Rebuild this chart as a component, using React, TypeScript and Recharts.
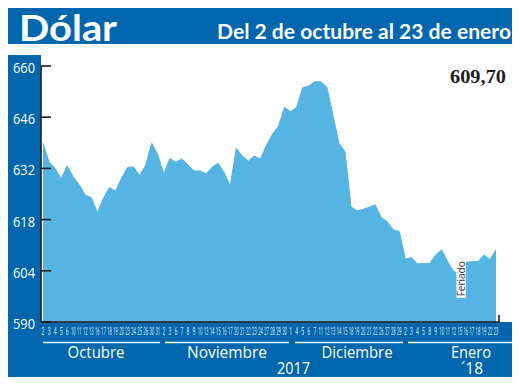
import React from 'react';
import { AreaChart, Area, XAxis, YAxis, ReferenceDot } from 'recharts';

// Business days shown on the axis
const octDays = [2, 3, 4, 5, 6, 10, 11, 12, 13, 16, 17, 18, 19, 20, 23, 24, 25, 26, 30, 31];
const novDays = [2, 3, 6, 7, 8, 9, 10, 13, 14, 15, 16, 17, 20, 21, 22, 23, 24, 27, 28, 29, 30];
const decDays = [1, 4, 5, 6, 7, 11, 12, 13, 14, 15, 18, 19, 20, 21, 22, 26, 27, 28, 29];
const janDays = [2, 3, 4, 5, 8, 9, 10, 11, 12, 15, 16, 17, 18, 19, 22, 23];

// Dollar values (CLP)
const octValues = [638.9, 633.8, 632.0, 629.1, 632.7, 629.7, 627.5, 624.7, 624.0, 619.9, 623.8, 626.8, 625.8, 629.3, 632.3, 632.4, 630.0, 632.9, 638.9, 635.7];
const novValues = [630.5, 634.7, 633.7, 634.6, 632.9, 631.3, 631.3, 630.5, 632.3, 633.4, 630.8, 627.2, 637.5, 635.4, 634.0, 635.4, 634.5, 638.4, 641.4, 643.6, 648.7];
const decValues = [647.5, 648.7, 654.1, 654.5, 655.7, 655.7, 654.2, 646.6, 638.9, 636.6, 621.5, 620.4, 620.8, 621.4, 622.0, 618.6, 617.4, 615.2, 614.7];
const janValues = [607.2, 607.6, 605.9, 606.0, 606.0, 608.3, 609.7, 606.5, 603.8, 603.3, 606.3, 606.5, 606.5, 608.3, 607.1, 609.7];

const yTicks = [590, 604, 618, 632, 646, 660];
const monthNames = ['Octubre', 'Noviembre', 'Diciembre', 'Enero'];
const title = 'Dólar';
const subtitle = 'Del 2 de octubre al 23 de enero';
const lastValueLabel = '609,70';
const holidayLabel = 'Feriado';
const holidayKey = '2018-01-15';
const holidayLabelValue = 601.8;

const pad = (n: number) => (n < 10 ? '0' + n : '' + n);
const build = (year: number, month: number, days: number[], values: number[]) =>
  days.map((d, i) => ({ key: `${year}-${pad(month)}-${pad(d)}`, day: d, value: values[i] }));

const data = [
  ...build(2017, 10, octDays, octValues),
  ...build(2017, 11, novDays, novValues),
  ...build(2017, 12, decDays, decValues),
  ...build(2018, 1, janDays, janValues),
];

const BLUE = '#0066AD';
const AREA = '#56B4E3';
const DARK = '#231F20';

const DayTick = (props: any) => {
  const { x, y, payload } = props;
  const d = Number(String(payload.value).slice(8, 10));
  return (
    <text
      x={x}
      y={y + 13}
      textAnchor="middle"
      fontSize={10}
      fontFamily="Roboto"
      fill="#DCEBF7"
      textLength={d >= 10 ? 4.6 : 2.8}
      lengthAdjust="spacingAndGlyphs"
    >
      {d}
    </text>
  );
};

const ValueTick = (props: any) => {
  const { x, y, payload } = props;
  return (
    <g>
      <text
        x={x}
        y={y + 7}
        textAnchor="end"
        fontSize={15}
        fontFamily="'Open Sans'"
        fill="#FFFFFF"
        textLength={22}
        lengthAdjust="spacingAndGlyphs"
      >
        {payload.value}
      </text>
      <line x1={x + 6} x2={x + 16} y1={y} y2={y} stroke={DARK} strokeWidth={1.6} />
    </g>
  );
};

const HolidayShape = (props: any) => {
  const { cx, cy } = props;
  return (
    <g>
      <rect x={cx - 3.3} y={cy - 19} width={9.4} height={38} fill="#FFFFFF" />
      <text
        transform={`translate(${cx + 5},${cy}) rotate(-90)`}
        textAnchor="middle"
        fontSize={10.5}
        fontFamily="'Open Sans'"
        fill="#333333"
        textLength={35}
        lengthAdjust="spacingAndGlyphs"
      >
        {holidayLabel}
      </text>
    </g>
  );
};

export default function App() {
  return (
    <div style={{ position: 'relative', width: 504, height: 374 }}>
      <svg
        width={520}
        height={390}
        style={{ position: 'absolute', left: -8, top: -8 }}
      >
        <rect x={8} y={5} width={506} height={39} fill={BLUE} />
        <rect x={8} y={55} width={33} height={268} fill={BLUE} />
        <rect x={8} y={322} width={505} height={55} fill={BLUE} />
        <text x={19} y={41} fill="#FFFFFF" fontSize={37} fontWeight={700} fontFamily="Lato" textLength={98} lengthAdjust="spacingAndGlyphs">
          {title}
        </text>
        <text x={217} y={39} fill="#FFFFFF" fontSize={21} fontWeight={700} fontFamily="Lato" textLength={294} lengthAdjust="spacingAndGlyphs">
          {subtitle}
        </text>
        <text x={450} y={83} fill={DARK} fontSize={19} fontWeight={700} fontFamily="'Liberation Serif'" textLength={56} lengthAdjust="spacingAndGlyphs">
          {lastValueLabel}
        </text>
        <line x1={43} x2={160} y1={342.5} y2={342.5} stroke="#FFFFFF" strokeWidth={1.5} />
        <line x1={165} x2={289} y1={342.5} y2={342.5} stroke="#FFFFFF" strokeWidth={1.5} />
        <line x1={295} x2={403} y1={342.5} y2={342.5} stroke="#FFFFFF" strokeWidth={1.5} />
        <line x1={408} x2={512} y1={342.5} y2={342.5} stroke="#FFFFFF" strokeWidth={1.5} />
        <text x={96} y={358} textAnchor="middle" fill="#FFFFFF" fontSize={16} fontFamily="'Open Sans'" textLength={57} lengthAdjust="spacingAndGlyphs">{monthNames[0]}</text>
        <text x={227} y={358} textAnchor="middle" fill="#FFFFFF" fontSize={16} fontFamily="'Open Sans'" textLength={80} lengthAdjust="spacingAndGlyphs">{monthNames[1]}</text>
        <text x={357} y={358} textAnchor="middle" fill="#FFFFFF" fontSize={16} fontFamily="'Open Sans'" textLength={71} lengthAdjust="spacingAndGlyphs">{monthNames[2]}</text>
        <text x={471} y={358} textAnchor="middle" fill="#FFFFFF" fontSize={16} fontFamily="'Open Sans'" textLength={40} lengthAdjust="spacingAndGlyphs">{monthNames[3]}</text>
        <text x={293.5} y={374} textAnchor="middle" fill="#FFFFFF" fontSize={16} fontFamily="'Open Sans'" textLength={33} lengthAdjust="spacingAndGlyphs">2017</text>
        <text x={472} y={374} textAnchor="middle" fill="#FFFFFF" fontSize={16} fontFamily="'Open Sans'" textLength={22} lengthAdjust="spacingAndGlyphs">´18</text>
        <line x1={499} x2={499} y1={315} y2={323} stroke={DARK} strokeWidth={1.6} />
      </svg>
      <div style={{ position: 'absolute', left: 0, top: 0 }}>
        <AreaChart
          width={504}
          height={374}
          data={data}
          margin={{ top: 58, right: 13, bottom: 30, left: 0 }}
        >
          <XAxis
            dataKey="key"
            interval={0}
            height={30}
            tickLine={false}
            tickSize={0}
            tickMargin={0}
            padding={{ left: 2, right: 3 }}
            axisLine={{ stroke: DARK, strokeWidth: 1.6 }}
            tick={(p: any) => <DayTick {...p} />}
          />
          <YAxis
            width={33}
            domain={[590, 660]}
            ticks={yTicks}
            interval={0}
            allowDataOverflow
            tickLine={false}
            tickSize={0}
            tickMargin={6}
            axisLine={{ stroke: DARK, strokeWidth: 1.6 }}
            tick={(p: any) => <ValueTick {...p} />}
          />
          <Area
            type="linear"
            dataKey="value"
            stroke={AREA}
            strokeWidth={1}
            fill={AREA}
            fillOpacity={1}
            isAnimationActive={false}
            dot={false}
            activeDot={false}
          />
          <ReferenceDot
            x={holidayKey}
            y={holidayLabelValue}
            r={0}
            shape={(p: any) => <HolidayShape {...p} />}
          />
        </AreaChart>
      </div>
    </div>
  );
}
